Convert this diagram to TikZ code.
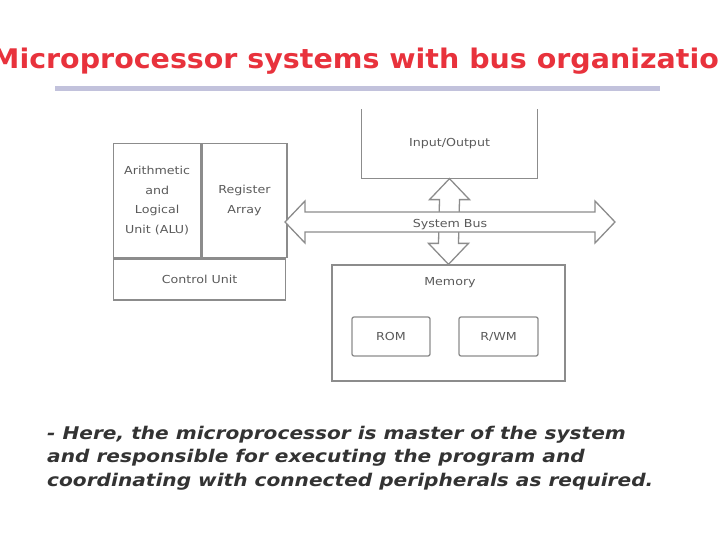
\documentclass[tikz,border=0pt]{standalone}
\usepackage{fontspec}
\setmainfont{DejaVu Sans}
\usetikzlibrary{calc}
\definecolor{titlered}{HTML}{E8323C}
\definecolor{barblue}{HTML}{C2C2DC}
\definecolor{linegray}{HTML}{8C8C8C}
\definecolor{textgray}{HTML}{5A5A5A}
\definecolor{bodygray}{HTML}{333333}

\begin{document}
\begin{tikzpicture}[x=1pt, y=-1pt,
  box/.style={draw=linegray, line width=1.3pt, inner sep=0pt, align=center,
    font=\fontsize{11}{19.5}\selectfont\addfontfeature{FakeStretch=1.15}, text=textgray},
  busline/.style={draw=linegray, line width=1.3pt, fill=white, line join=miter}]

\useasboundingbox (0,0) rectangle (720,540);

% Title and rule
\node[anchor=base west, inner sep=0pt, text=titlered,
  font=\fontsize{27}{30}\selectfont\bfseries\addfontfeature{FakeStretch=1.055}] (title) at (-9,69) {Microprocessor systems with bus organization};
\fill[barblue] (55,86) rectangle (660,91);

% Microprocessor block
\node[box, anchor=north west, minimum width=87pt, minimum height=114pt] (alu) at (113,143) {Arithmetic\\and\\Logical\\Unit (ALU)};
\node[box, anchor=north west, minimum width=85pt, minimum height=114pt] (reg) at (alu.north east) {Register\\Array};
\node[box, anchor=north west, minimum width=172pt, minimum height=41pt] (ctrl) at (alu.south west) {Control Unit};
\coordinate (cpuE) at (285,222);

% Input/Output (open at the top)
\node[box, draw=none, minimum width=175pt, minimum height=68pt] (io) at (449.5,144) {Input/Output};
\draw[linegray, line width=1.3pt] (io.north west) -- (io.south west) -- (io.south east) -- (io.north east);

% Memory
\node[box, minimum width=233pt, minimum height=116pt] (mem) at (448.5,323) {};
\node[box, draw=none] (memlbl) at (450,283) {Memory};
\node[box, rounded corners=2pt, minimum width=78pt, minimum height=39pt] (rom) at (391,336.5) {ROM};
\node[box, rounded corners=2pt, minimum width=79pt, minimum height=39pt] (rwm) at (498.5,336.5) {R/WM};

% Bus arrows
\coordinate (busE) at (615,222);
\draw[busline] (io.south) -- ++(20,21) -- ++(-10,0) -- ($(mem.north)+(10,-21)$) -- ++(10,0) -- (mem.north)
  -- ++(-20,-21) -- ++(10,0) -- ($(io.south)+(-10,21)$) -- ++(-10,0) -- cycle;
\draw[busline] (cpuE) -- ++(20,-21) -- ++(0,11) -- ($(busE)+(-20,-10)$) -- ++(0,-11) -- (busE)
  -- ++(-20,21) -- ++(0,-11) -- ($(cpuE)+(20,10)$) -- ++(0,11) -- cycle;
\node[box, draw=none] (bus) at (450,225) {System Bus};

% Note
\node[anchor=north west, inner sep=0pt, align=left, text=bodygray,
  font=\fontsize{17.5}{23.5}\selectfont\bfseries\itshape\addfontfeature{FakeStretch=1.15}] (note) at (47,426)
  {- Here, the microprocessor is master of the system\\and responsible for executing the program and\\coordinating with connected peripherals as required.};
\end{tikzpicture}
\end{document}
